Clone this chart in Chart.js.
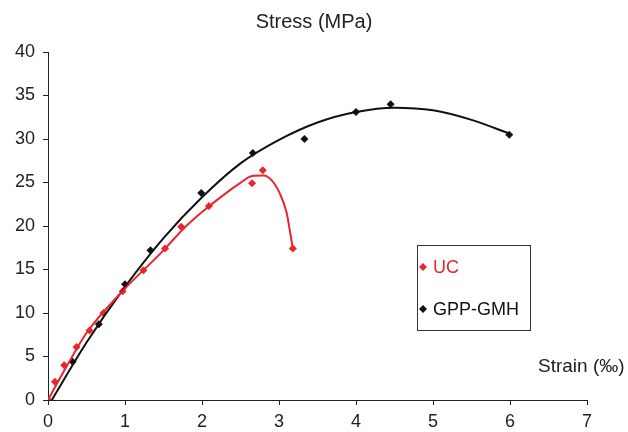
<!DOCTYPE html>
<html>
<head>
<meta charset="utf-8">
<script src="https://cdn.jsdelivr.net/npm/chart.js@4/dist/chart.umd.min.js"></script>
<style>
  html, body { margin: 0; padding: 0; background: #fff; }
  #wrap { width: 628px; height: 432px; }
</style>
</head>
<body>
<div id="wrap"><canvas id="myChart" width="628" height="432"></canvas></div>
<script>
// Measured points
const uc_strain = [0, 0.09, 0.21, 0.37, 0.54, 0.72, 0.97, 1.24, 1.52, 1.73, 2.09, 2.65, 2.79, 3.18];
const uc_stress = [0, 2.1, 4.0, 6.1, 8.0, 10.0, 12.5, 14.9, 17.4, 19.9, 22.3, 24.9, 26.4, 17.4];
const gpp_strain = [0, 0.32, 0.66, 1.0, 1.33, 1.99, 2.66, 3.33, 4.0, 4.45, 5.99];
const gpp_stress = [0, 4.4, 8.7, 13.3, 17.2, 23.8, 28.4, 30.0, 33.1, 34.0, 30.5];

// Trend lines
const uc_trend_x = [0, 0.25, 0.5, 1.0, 1.5, 1.75, 2.0, 2.36, 2.49, 2.65, 2.8, 2.9, 3.01, 3.1, 3.14, 3.18];
const uc_trend_y = [0, 4.0, 7.7, 12.8, 17.2, 19.6, 21.6, 24.1, 24.9, 25.75, 25.8, 25.3, 23.75, 21.5, 19.5, 17.4];
const gpp_trend_x = [0.05, 0.5, 1.0, 1.5, 2.0, 2.5, 3.0, 3.5, 4.0, 4.5, 5.0, 5.5, 6.0];
const gpp_trend_y = [0, 6.6, 13.0, 18.6, 23.3, 27.2, 29.9, 31.9, 33.1, 33.6, 33.3, 32.2, 30.6];

const series_names = ['UC', 'GPP-GMH'];
const series_colors = ['#e8262d', '#111111'];

const xTicks = [0, 1, 2, 3, 4, 5, 6, 7];
const yTicks = [0, 5, 10, 15, 20, 25, 30, 35, 40];

function pairs(xs, ys) { return xs.map((x, i) => ({ x: x, y: ys[i] })); }

const FONT = "'Liberation Sans', Arial, sans-serif";

// Title, axis label and legend box drawn on the canvas
const extras = {
  id: 'extras',
  afterDraw(chart) {
    const ctx = chart.ctx;
    ctx.save();
    ctx.fillStyle = '#222';
    ctx.textBaseline = 'alphabetic';
    ctx.font = '20px ' + FONT;
    ctx.textAlign = 'center';
    ctx.fillText('Stress (MPa)', 314, 28);
    ctx.textAlign = 'left';
    ctx.font = '19px ' + FONT;
    ctx.fillText('Strain (\u2030)', 538, 372);

    // legend
    const bx = 417, by = 245, bw = 113, bh = 85;
    ctx.strokeStyle = '#333';
    ctx.lineWidth = 1;
    ctx.strokeRect(bx + 0.5, by + 0.5, bw, bh);
    ctx.font = '18px ' + FONT;
    const rows = [267, 309];
    series_names.forEach((name, i) => {
      const cy = rows[i];
      ctx.fillStyle = series_colors[i];
      ctx.beginPath();
      ctx.moveTo(bx + 6, cy - 4);
      ctx.lineTo(bx + 10, cy);
      ctx.lineTo(bx + 6, cy + 4);
      ctx.lineTo(bx + 2, cy);
      ctx.closePath();
      ctx.fill();
      ctx.fillText(name, bx + 16, cy + 6);
    });
    ctx.restore();
  }
};

const config = {
  type: 'scatter',
  data: {
    datasets: [
      {
        label: series_names[0] + ' trend',
        data: pairs(uc_trend_x, uc_trend_y),
        showLine: true,
        borderColor: series_colors[0],
        borderWidth: 2,
        pointRadius: 0,
        cubicInterpolationMode: 'monotone'
      },
      {
        label: series_names[1] + ' trend',
        data: pairs(gpp_trend_x, gpp_trend_y),
        showLine: true,
        borderColor: series_colors[1],
        borderWidth: 2,
        pointRadius: 0,
        cubicInterpolationMode: 'monotone'
      },
      {
        label: series_names[0],
        data: pairs(uc_strain, uc_stress),
        pointStyle: 'rectRot',
        pointRadius: 4,
        backgroundColor: series_colors[0],
        borderColor: series_colors[0],
        borderWidth: 0
      },
      {
        label: series_names[1],
        data: pairs(gpp_strain, gpp_stress),
        pointStyle: 'rectRot',
        pointRadius: 4,
        backgroundColor: series_colors[1],
        borderColor: series_colors[1],
        borderWidth: 0
      }
    ]
  },
  options: {
    responsive: false,
    animation: false,
    layout: { padding: { top: 52, right: 41, left: 0, bottom: 0 } },
    plugins: {
      legend: { display: false },
      tooltip: { enabled: false },
      title: { display: false }
    },
    scales: {
      x: {
        type: 'linear',
        min: 0, max: 7,
        afterBuildTicks(s) { s.ticks = xTicks.map(v => ({ value: v })); },
        afterFit(s) { s.height = 32; },
        border: { color: '#222', width: 1 },
        grid: { drawOnChartArea: false, drawTicks: true, tickLength: 5, color: '#222' },
        ticks: { color: '#222', font: { family: FONT, size: 18 }, padding: 6, maxRotation: 0 }
      },
      y: {
        type: 'linear',
        min: 0, max: 40,
        afterBuildTicks(s) { s.ticks = yTicks.map(v => ({ value: v })); },
        afterFit(s) { s.width = 48; },
        border: { color: '#222', width: 1 },
        grid: { drawOnChartArea: false, drawTicks: true, tickLength: 5, color: '#222' },
        ticks: { color: '#222', font: { family: FONT, size: 18 }, padding: 8 }
      }
    }
  },
  plugins: [extras]
};

const myChart = new Chart(document.getElementById('myChart'), config);
</script>
</body>
</html>
